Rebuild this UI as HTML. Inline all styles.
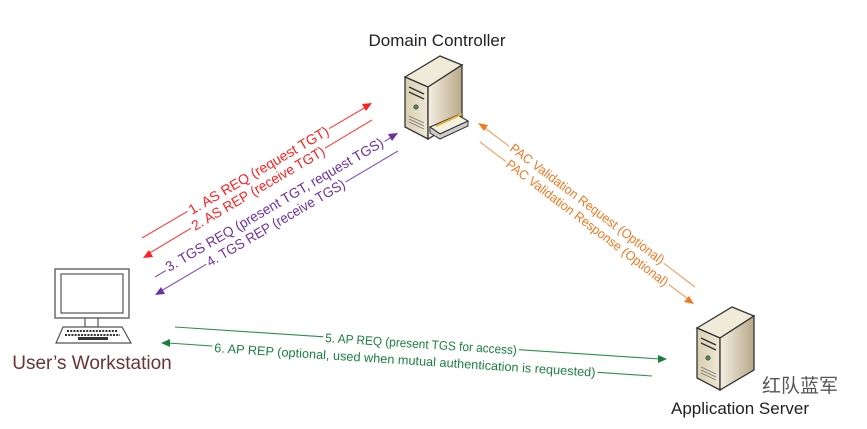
<!DOCTYPE html>
<html><head><meta charset="utf-8"><style>
html,body{margin:0;padding:0;background:#fff;}
svg{display:block;}
text{font-family:"Liberation Sans","Noto Sans CJK SC",sans-serif;}
</style></head><body>
<svg width="867" height="429" viewBox="0 0 867 429" xmlns="http://www.w3.org/2000/svg">
<defs>
<linearGradient id="fr" x1="0" x2="1"><stop offset="0" stop-color="#d9ceb0"/><stop offset="1" stop-color="#efe8d6"/></linearGradient>
<linearGradient id="sd" x1="0" x2="1"><stop offset="0" stop-color="#f4efe3"/><stop offset="1" stop-color="#b8a888"/></linearGradient>
<g id="srv">
<polygon points="0,23 35,2 57,11 23,33" fill="#f0ead8" stroke="#333" stroke-width="1.3"/>
<polygon points="0,23 23,33 23,85 0,73" fill="url(#fr)" stroke="#333" stroke-width="1.3"/>
<polygon points="23,33 57,11 57,65 23,85" fill="url(#sd)" stroke="#333" stroke-width="1.3"/>
<line x1="4" y1="33" x2="19" y2="40" stroke="#333" stroke-width="1.5"/>
<line x1="4" y1="38" x2="19" y2="45" stroke="#333" stroke-width="1.5"/>
<circle cx="11" cy="53" r="2.2" fill="#4a8a6a" stroke="#333" stroke-width=".6"/>
<line x1="4" y1="62" x2="19" y2="69" stroke="#777" stroke-width=".8"/>
<line x1="4" y1="65" x2="19" y2="72" stroke="#777" stroke-width=".8"/>
<line x1="4" y1="68" x2="19" y2="75" stroke="#777" stroke-width=".8"/>
</g>
</defs>

<text x="437" y="46" font-size="17" text-anchor="middle" fill="#222">Domain Controller</text>
<use href="#srv" x="405" y="54"/>
<polygon points="430,127 458,115 468,121 440,134" fill="#f5f0e0" stroke="#333" stroke-width="1.2"/>
<polygon points="440,134 468,121 468,126 440,139 430,133 430,127" fill="#ccc" stroke="#333" stroke-width="1"/>
<line x1="436" y1="126" x2="462" y2="114" stroke="#e0b030" stroke-width="2"/>

<use href="#srv" x="697" y="305"/>
<text x="740" y="414" font-size="17" text-anchor="middle" fill="#222">Application Server</text>
<text x="762" y="392" font-size="19" fill="#555">红队蓝军</text>

<rect x="55" y="269" width="74" height="49" fill="#fff" stroke="#555" stroke-width="1.3"/>
<rect x="61" y="274" width="62" height="39" fill="#fff" stroke="#555" stroke-width="1.2"/>
<rect x="85" y="318" width="13" height="9" fill="#fff" stroke="#555" stroke-width="1.2"/>
<polygon points="63,327 122,327 131,343 56,343" fill="#fff" stroke="#555" stroke-width="1.2"/>
<g stroke="#333" stroke-width="2" stroke-dasharray="2 1.2">
<line x1="67" y1="331" x2="118" y2="331"/><line x1="65" y1="335" x2="120" y2="335"/>
</g>
<rect x="78" y="337" width="30" height="3" fill="#333"/>
<text x="92" y="369" font-size="19" text-anchor="middle" fill="#6a3434">User’s Workstation</text>

<!-- Red -->
<g stroke="#ff4040" stroke-width="1.1" fill="#ff2020">
<line x1="142" y1="238" x2="366" y2="107"/>
<polygon points="372,103 362,104 366,111" stroke="none"/>
<line x1="372" y1="120" x2="148" y2="254"/>
<polygon points="143,258 149,250 153,257" stroke="none"/>
</g>
<g fill="#ff2020" font-size="14">
<g transform="translate(192,215) rotate(-30.4)"><rect x="-2" y="-10" width="164" height="12" fill="#fff"/><text textLength="160" lengthAdjust="spacingAndGlyphs">1. AS REQ (request TGT)</text></g>
<g transform="translate(195,231) rotate(-30.4)"><rect x="-2" y="-10" width="156" height="12" fill="#fff"/><text textLength="152" lengthAdjust="spacingAndGlyphs">2. AS REP (receive TGT)</text></g>
</g>
<!-- Purple -->
<g stroke="#8050c8" stroke-width="1.1" fill="#7030a0">
<line x1="155" y1="277" x2="392" y2="137"/>
<polygon points="398,133 388,134 392,141" stroke="none"/>
<line x1="398" y1="151" x2="161" y2="291"/>
<polygon points="155,295 161,287 165,294" stroke="none"/>
</g>
<g fill="#7030a0" font-size="14">
<g transform="translate(169,272) rotate(-30.4)"><rect x="-2" y="-10" width="254" height="12" fill="#fff"/><text textLength="250" lengthAdjust="spacingAndGlyphs">3. TGS REQ (present TGT, request TGS)</text></g>
<g transform="translate(210,267) rotate(-30.4)"><rect x="-2" y="-10" width="162" height="12" fill="#fff"/><text textLength="158" lengthAdjust="spacingAndGlyphs">4. TGS REP (receive TGS)</text></g>
</g>
<!-- Orange -->
<g stroke="#f5a060" stroke-width="1.1" fill="#f07820">
<line x1="485" y1="128" x2="695" y2="287"/>
<polygon points="478,123 488,125 484,131" stroke="none"/>
<line x1="480" y1="142" x2="688" y2="299"/>
<polygon points="694,304 684,302 689,296" stroke="none"/>
</g>
<g fill="#f07820" font-size="13">
<g transform="translate(509,150) rotate(37.2)"><rect x="-2" y="-9" width="194" height="11" fill="#fff"/><text textLength="190" lengthAdjust="spacingAndGlyphs">PAC Validation Request (Optional)</text></g>
<g transform="translate(505,166) rotate(37.2)"><rect x="-2" y="-9" width="204" height="11" fill="#fff"/><text textLength="200" lengthAdjust="spacingAndGlyphs">PAC Validation Response (Optional)</text></g>
</g>
<!-- Green -->
<g stroke="#2a9050" stroke-width="1.1" fill="#1a8040">
<line x1="175" y1="327" x2="660" y2="359"/>
<polygon points="667,359 658,355 658,363" stroke="none"/>
<line x1="652" y1="376" x2="168" y2="343"/>
<polygon points="161,343 170,339 170,347" stroke="none"/>
</g>
<g fill="#1a8040" font-size="12.5">
<g transform="translate(325,342) rotate(3.7)"><rect x="-2" y="-9" width="196" height="11" fill="#fff"/><text textLength="192" lengthAdjust="spacingAndGlyphs">5. AP REQ (present TGS for access)</text></g>
<g transform="translate(214,352) rotate(3.7)"><rect x="-2" y="-9" width="386" height="11" fill="#fff"/><text textLength="382" lengthAdjust="spacingAndGlyphs">6. AP REP (optional, used when mutual authentication is requested)</text></g>
</g>
</svg>
</body></html>
